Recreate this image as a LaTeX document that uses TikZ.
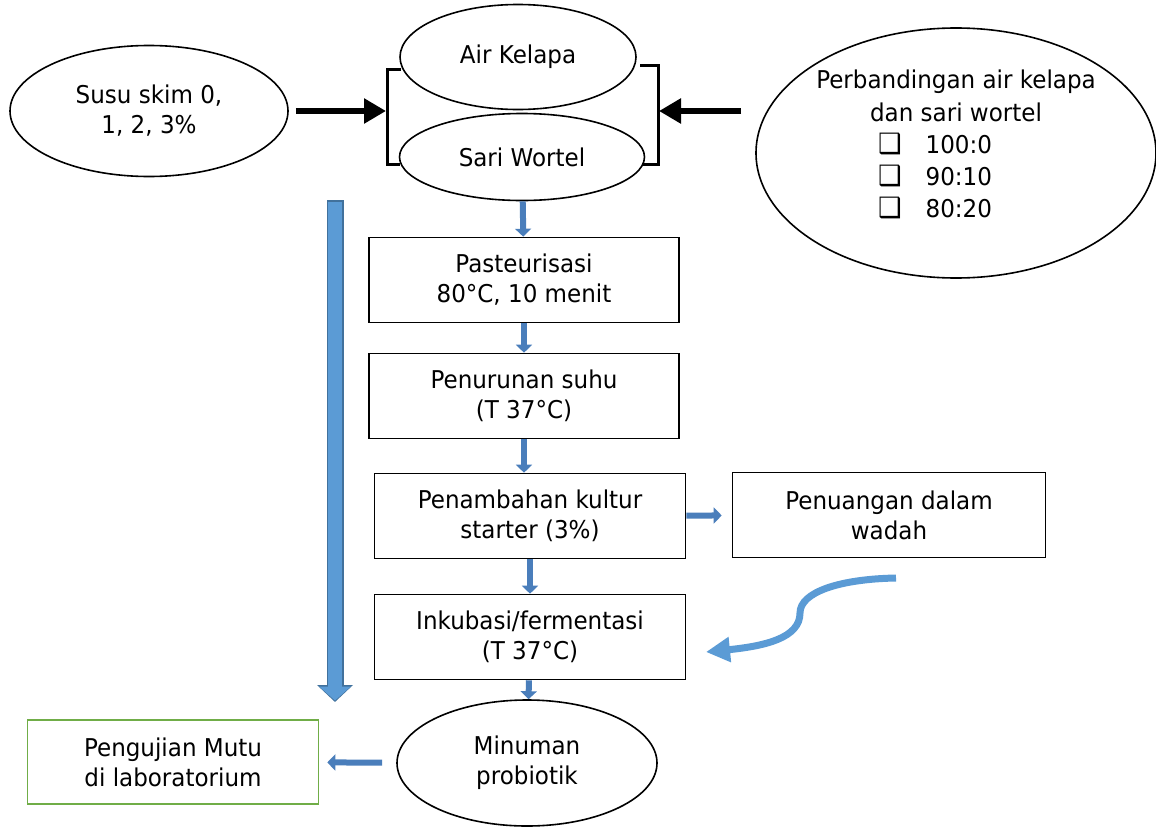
\documentclass[tikz,border=0pt]{standalone}
\usepackage{fontspec}
\setmainfont{DejaVu Sans}[FakeStretch=0.94]
\usetikzlibrary{arrows.meta,shapes.geometric,calc,positioning}
\definecolor{flowblue}{RGB}{74,126,187}
\definecolor{bigblue}{RGB}{91,155,213}
\definecolor{bigedge}{RGB}{65,113,156}
\definecolor{mutugreen}{RGB}{112,173,71}
\newcommand{\cekbox}{{\fontsize{28}{28}\selectfont ❑}}
\tikzset{
  txt/.style={font=\fontsize{24.5}{30}\selectfont, align=center, inner sep=0pt},
  oval/.style={txt, ellipse, draw, line width=1.6pt, fill=white},
  box/.style={txt, rectangle, draw, line width=1.6pt, minimum width=310pt, minimum height=85pt},
  flow/.style={draw=flowblue, line width=6pt, -{Triangle[width=16pt,length=8pt]}},
  push/.style={line width=6pt, -{Triangle[width=24pt,length=22pt]}},
  bracket/.style={line width=3pt, line join=miter}
}

\begin{document}
\begin{tikzpicture}[x=1pt,y=-1pt]
  \useasboundingbox (0,0) rectangle (1156,827);
  \node[oval, minimum width=278pt, minimum height=131pt] (susu) at (149,111) {Susu skim 0,\\1, 2, 3\%};
  \node[oval, minimum width=236pt, minimum height=105pt] (air) at (518,57) {Air Kelapa};
  \node[oval, minimum width=245pt, minimum height=87pt] (sari) at (522,157) {Sari Wortel};
  \node[oval, minimum width=400pt, minimum height=250pt, text depth=18pt,
        font=\fontsize{24.5}{32.2}\selectfont] (rasio) at (956,153)
    {Perbandingan air kelapa\\dan sari wortel\\
     \makebox[156pt][l]{\cekbox\hspace{24pt}100:0}\\
     \makebox[156pt][l]{\cekbox\hspace{24pt}90:10}\\
     \makebox[156pt][l]{\cekbox\hspace{24pt}80:20}};
  \node[box] (past) at (524,280) {Pasteurisasi\\80°C, 10 menit};
  \node[box] (turun) at (524,396) {Penurunan suhu\\(T 37°C)};
  \node[box, minimum width=311pt] (kultur) at (530,516) {Penambahan kultur\\starter (3\%)};
  \node[box, minimum width=313pt] (tuang) at (889,515) {Penuangan dalam\\wadah};
  \node[box, minimum width=311pt] (inkub) at (530,637) {Inkubasi/fermentasi\\(T 37°C)};
  \node[oval, minimum width=260pt, minimum height=126pt] (minum) at (527,763) {Minuman\\probiotik};
  \node[box, draw=mutugreen, minimum width=291pt, minimum height=84pt] (mutu) at (173,762) {Pengujian Mutu\\di laboratorium};

  \draw[bracket] (401,69) -- (387,69) -- (387,164) -- (400,164);
  \draw[bracket] (640,65) -- (658,65) -- (658,164) -- (643,164);
  \coordinate (lbr) at (386,111);
  \coordinate (rbr) at (659,111);
  \draw[push, shorten <=7pt] (susu.east) -- (lbr);
  \draw[push, shorten <=14pt] (rasio.west |- rbr) -- (rbr);

  \draw[flow] (sari) -- (past);
  \draw[flow] (past) -- (turun);
  \draw[flow] (turun.south) -- (turun.south |- kultur.north);
  \draw[flow] (kultur) -- (inkub);
  \draw[flow] (inkub) -- (minum);
  \draw[flow, shorten >=10pt] (kultur) -- (tuang);
  \draw[flow, shorten <=14pt, shorten >=8pt] (minum) -- (mutu);

  \coordinate (skimtop) at (335,200);
  \coordinate (skimbot) at (335,702);
  \draw[draw=bigedge, line width=17pt, -{Triangle[width=35pt,length=17pt]}] (skimtop) -- (skimbot);
  \draw[draw=bigblue, line width=14pt, shorten <=1.5pt, shorten >=1.5pt, -{Triangle[width=31pt,length=14pt]}] (skimtop) -- (skimbot);

  \coordinate (swirlstart) at (896,578);
  \coordinate (swirlend) at (706,652);
  \draw[draw=bigblue, line width=7pt, -{Triangle[width=24pt,length=24pt]}] (swirlstart)
    .. controls (840,579) and (800,592) .. (800,613)
    .. controls (800,638) and (765,646) .. (swirlend);
\end{tikzpicture}
\end{document}
